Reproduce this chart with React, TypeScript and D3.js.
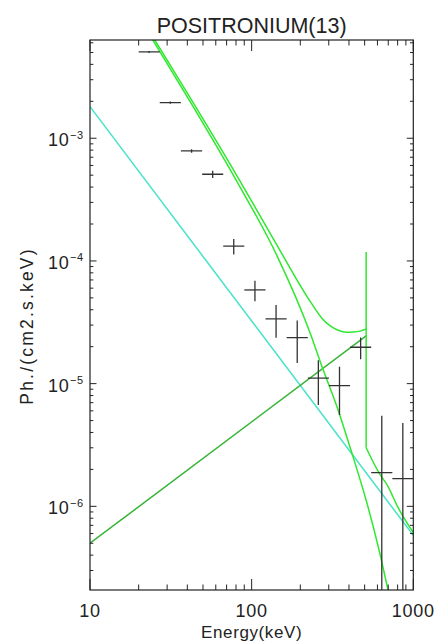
import React from "react";
import * as d3 from "d3";

// Spectrum bins (keV): lower edge, upper edge, and log-centre of each bin
const energyLo = [20.0, 27.0, 36.5, 49.4, 66.7, 90.1, 121.8, 164.6, 222.5, 300.6, 406.3, 549.1, 742.0];
const energyHi = [27.0, 36.5, 49.4, 66.7, 90.1, 121.8, 164.6, 222.5, 300.6, 406.3, 549.1, 742.0, 1000.0];
const energyCenter = [23.2, 31.4, 42.5, 57.4, 77.5, 104.8, 141.6, 191.4, 258.6, 349.5, 472.3, 638.3, 861.4];

// Measured flux (ph / cm2 / s / keV) and 1-sigma errors
const flux = [5.05e-3, 1.95e-3, 7.88e-4, 5.09e-4, 1.32e-4, 5.8e-5, 3.37e-5, 2.37e-5, 1.11e-5, 9.64e-6, 1.98e-5, 1.88e-6, 1.68e-6];
const fluxErr = [1.0e-4, 4.0e-5, 2.5e-5, 3.5e-5, 1.9e-5, 1.1e-5, 1.0e-5, 9.0e-6, 4.4e-6, 4.1e-6, 4.0e-6, 3.6e-6, 3.1e-6];

// Model components
const powerLawEnergy = [10, 1000];
const powerLawFlux = [1.81e-3, 5.8e-7];

const orthoEnergy = [10, 511];
const orthoFlux = [5.0e-7, 2.45e-5];

const cutoffEnergy = [20.4, 24.5, 44.7, 81.3, 143.6, 229.7, 272.7, 337.5, 424, 510, 614, 698, 750];
const cutoffFlux = [9.37e-3, 6.32e-3, 1.7e-3, 4.41e-4, 1.1e-4, 2.6e-5, 1.37e-5, 6.46e-6, 2.53e-6, 1.13e-6, 4.41e-7, 2.08e-7, 1.38e-7];

// Total model: continuum below the 511 keV line, the line itself, continuum above
const totalLowEnergy = [20.4, 24.5, 44.7, 81.3, 143.6, 229.7, 272.7, 337.5, 388, 424, 470, 511];
const totalLowFlux = [9.89e-3, 6.7e-3, 1.835e-3, 4.92e-4, 1.342e-4, 4.7e-5, 3.4e-5, 2.75e-5, 2.62e-5, 2.63e-5, 2.68e-5, 2.79e-5];
const lineEnergy = 511;
const linePeakFlux = 1.18e-4;
const totalHighEnergy = [511, 614, 698, 800, 1000];
const totalHighFlux = [3.0e-6, 1.87e-6, 1.45e-6, 9.93e-7, 6.1e-7];

const xTickLabels = ["10", "100", "1000"];
const xTickValues = [10, 100, 1000];
const yTickExponents = ["−3", "−4", "−5", "−6"];
const yTickValues = [1e-3, 1e-4, 1e-5, 1e-6];

const W = 437;
const H = 644;
const left = 90;
const right = 413.3;
const top = 40;
const bottom = 590;

const GREEN = "#2fe82f";
const DARK_GREEN = "#36b336";
const CYAN = "#45e3c8";
const INK = "#222";
const FONT = "'Liberation Sans', Arial, sans-serif";

export default function App() {
  const x = d3.scaleLog().domain([10, 1000]).range([left, right]);
  const y = d3.scaleLog().domain([2.08e-7, 6.32e-3]).range([bottom, top]);

  const pairs = (es: number[], fs: number[]) => es.map((e, i) => [e, fs[i]] as [number, number]);
  const straight = d3.line<[number, number]>().x((d) => x(d[0])).y((d) => y(d[1]));
  const smooth = d3
    .line<[number, number]>()
    .x((d) => x(d[0]))
    .y((d) => y(d[1]))
    .curve(d3.curveMonotoneX);

  // minor / major ticks
  const xTicks: { v: number; major: boolean }[] = [];
  [10, 100].forEach((dec) => {
    for (let m = 1; m <= 9; m++) xTicks.push({ v: m * dec, major: m === 1 });
  });
  xTicks.push({ v: 1000, major: true });

  const yTicks: { v: number; major: boolean }[] = [];
  for (let e = -7; e <= -3; e++) {
    for (let m = 1; m <= 9; m++) {
      const v = m * Math.pow(10, e);
      if (v >= 2.08e-7 && v <= 6.32e-3) yTicks.push({ v, major: m === 1 });
    }
  }

  const xMajorLen = 11;
  const xMinorLen = 5.5;
  const yMajorLen = 6.5;
  const yMinorLen = 3.3;

  const yBottomLimit = y.domain()[0];

  return (
    <svg
      width={W}
      height={H}
      viewBox={`0 0 ${W} ${H}`}
      style={{ position: "absolute", left: 0, top: 0, background: "#fff" }}
    >
      <defs>
        <clipPath id="plotArea">
          <rect x={left} y={top} width={right - left} height={bottom - top} />
        </clipPath>
      </defs>
      <rect x={0} y={0} width={W} height={H} fill="#fff" />

      {/* title */}
      <text
        x={(left + right) / 2}
        y={33}
        textAnchor="middle"
        fontFamily={FONT}
        fontSize={21.5}
        fill={INK}
      >
        POSITRONIUM(13)
      </text>

      {/* model curves */}
      <g clipPath="url(#plotArea)" fill="none" strokeWidth={1.5}>
        <path d={straight(pairs(powerLawEnergy, powerLawFlux)) || ""} stroke={CYAN} />
        <path d={straight(pairs(orthoEnergy, orthoFlux)) || ""} stroke={DARK_GREEN} />
        <path d={smooth(pairs(cutoffEnergy, cutoffFlux)) || ""} stroke={GREEN} />
        <path d={smooth(pairs(totalLowEnergy, totalLowFlux)) || ""} stroke={GREEN} />
        <path
          d={
            straight([
              [lineEnergy, linePeakFlux],
              [lineEnergy, totalHighFlux[0]],
            ]) || ""
          }
          stroke={GREEN}
        />
        <path d={smooth(pairs(totalHighEnergy, totalHighFlux)) || ""} stroke={GREEN} />
      </g>

      {/* data points with error bars */}
      <g clipPath="url(#plotArea)" stroke="#333" strokeWidth={1.3}>
        {flux.map((f, i) => {
          const cx = x(energyCenter[i]);
          const cy = y(f);
          const lo = f - fluxErr[i];
          const yLo = lo > yBottomLimit ? y(lo) : bottom + 2;
          const yHi = y(f + fluxErr[i]);
          return (
            <g key={i}>
              <line x1={x(energyLo[i])} x2={x(energyHi[i])} y1={cy} y2={cy} />
              <line x1={cx} x2={cx} y1={yHi} y2={yLo} />
            </g>
          );
        })}
      </g>

      {/* frame */}
      <rect
        x={left}
        y={top}
        width={right - left}
        height={bottom - top}
        fill="none"
        stroke={INK}
        strokeWidth={1.2}
      />

      {/* x ticks, bottom and top */}
      <g stroke={INK} strokeWidth={1}>
        {xTicks.map((t, i) => {
          const px = x(t.v);
          const len = t.major ? xMajorLen : xMinorLen;
          return (
            <g key={i}>
              <line x1={px} x2={px} y1={bottom} y2={bottom - len} />
              <line x1={px} x2={px} y1={top} y2={top + len} />
            </g>
          );
        })}
        {yTicks.map((t, i) => {
          const py = y(t.v);
          const len = t.major ? yMajorLen : yMinorLen;
          return (
            <g key={i}>
              <line x1={left} x2={left + len} y1={py} y2={py} />
              <line x1={right} x2={right - len} y1={py} y2={py} />
            </g>
          );
        })}
      </g>

      {/* x tick labels */}
      <g fontFamily={FONT} fontSize={18} fill={INK} textAnchor="middle">
        {xTickValues.map((v, i) => (
          <text key={i} x={x(v)} y={616.5} letterSpacing={0.8}>
            {xTickLabels[i]}
          </text>
        ))}
      </g>

      {/* y tick labels */}
      <g fontFamily={FONT} fill={INK}>
        {yTickValues.map((v, i) => {
          const py = y(v);
          return (
            <g key={i}>
              <text x={69.5} y={py + 8} fontSize={18} textAnchor="end" letterSpacing={0.8}>
                10
              </text>
              <text x={70} y={py + 0.5} fontSize={11} textAnchor="start" letterSpacing={0.5}>
                {yTickExponents[i]}
              </text>
            </g>
          );
        })}
      </g>

      {/* axis titles */}
      <text
        x={(left + right) / 2}
        y={638}
        textAnchor="middle"
        fontFamily={FONT}
        fontSize={17}
        letterSpacing={0.6}
        fill={INK}
      >
        Energy(keV)
      </text>
      <text
        transform={`translate(33, 326) rotate(-90)`}
        textAnchor="middle"
        fontFamily={FONT}
        fontSize={17.5}
        letterSpacing={2.2}
        fill={INK}
      >
        Ph./(cm2.s.keV)
      </text>
    </svg>
  );
}
